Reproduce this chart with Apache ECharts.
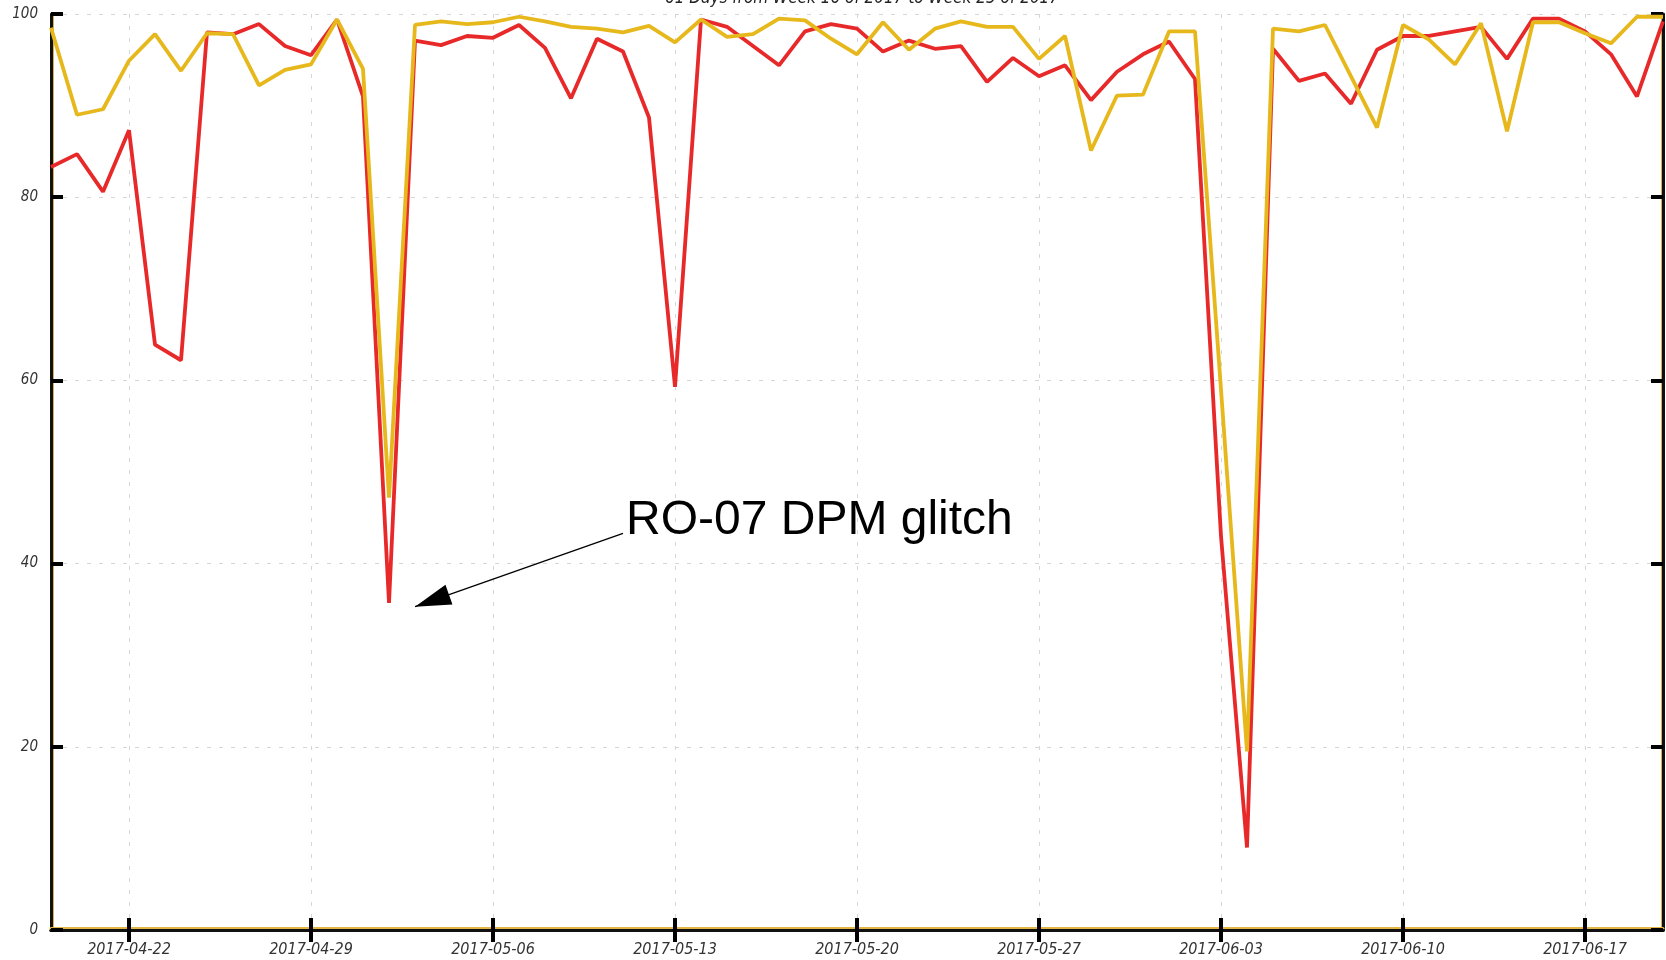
<!DOCTYPE html>
<html>
<head>
<meta charset="utf-8">
<script src="https://cdn.jsdelivr.net/npm/echarts@6/dist/echarts.min.js"></script>
<style>
html, body { margin: 0; padding: 0; background: #fff; }
#chart { width: 1666px; height: 960px; }
</style>
</head>
<body>
<div id="chart"></div>
<script>

// 63 days, 2017-04-19 .. 2017-06-20
var days = [];
(function () {
    var d = new Date(Date.UTC(2017, 3, 19));
    for (var i = 0; i < 63; i++) {
        days.push(d.toISOString().slice(0, 10));
        d.setUTCDate(d.getUTCDate() + 1);
    }
})();

var tickDays = ['2017-04-22', '2017-04-29', '2017-05-06', '2017-05-13', '2017-05-20',
                '2017-05-27', '2017-06-03', '2017-06-10', '2017-06-17'];

var availability = [83.3, 84.7, 80.6, 87.3, 63.9, 62.2, 98.0, 97.8, 98.9, 96.5,
                    95.5, 99.4, 91.0, 35.7, 97.1, 96.6, 97.6, 97.4, 98.8, 96.3,
                    90.8, 97.3, 95.9, 88.7, 59.3, 99.4, 98.6, 96.5, 94.4, 98.1,
                    98.9, 98.4, 95.9, 97.1, 96.2, 96.5, 92.6, 95.2, 93.2, 94.4,
                    90.6, 93.7, 95.6, 97.0, 92.9, 43.0, 9.0, 96.2, 92.7, 93.5,
                    90.2, 96.1, 97.6, 97.6, 98.1, 98.6, 95.1, 99.5, 99.5, 98.1,
                    95.6, 91.0, 99.2];

var reliability = [98.5, 89.0, 89.6, 94.9, 97.8, 93.8, 97.9, 97.8, 92.2, 93.9,
                   94.5, 99.4, 94.0, 47.2, 98.8, 99.2, 98.9, 99.1, 99.7, 99.2,
                   98.6, 98.4, 98.0, 98.7, 96.9, 99.4, 97.5, 97.8, 99.5, 99.3,
                   97.3, 95.6, 99.1, 96.1, 98.4, 99.2, 98.6, 98.6, 95.1, 97.6,
                   85.1, 91.1, 91.2, 98.1, 98.1, 59.0, 19.5, 98.4, 98.1, 98.8,
                   93.2, 87.6, 98.8, 97.2, 94.5, 99.0, 87.2, 99.1, 99.1, 97.9,
                   96.8, 99.7, 99.7];

var titleText = '61 Days from Week 16 of 2017 to Week 25 of 2017';
var noteText = 'RO-07 DPM glitch';
var noteFrom = ['2017-05-11', 43.3];
var noteTo = ['2017-05-03', 35.3];

var labelFont = 'DejaVu Sans Condensed, DejaVu Sans, sans-serif';

function onWeek(idx, value) {
    return tickDays.indexOf(value) >= 0;
}

var chart = echarts.init(document.getElementById('chart'));

var option = {
    backgroundColor: '#fff',
    animation: false,
    title: {
        text: titleText,
        left: 857,
        top: -15,
        textAlign: 'center',
        textStyle: {
            fontFamily: labelFont,
            fontStyle: 'italic',
            fontWeight: 'normal',
            fontSize: 17,
            color: '#222'
        }
    },
    grid: {
        left: 51,
        right: 3,
        top: 14,
        bottom: 30,
        containLabel: false,
        outerBoundsMode: 'none'
    },
    xAxis: [
        {
            type: 'category',
            data: days,
            boundaryGap: false,
            position: 'bottom',
            axisLine: {
                lineStyle: { color: '#111', width: 3, shadowColor: '#e2b545', shadowOffsetY: -2 }
            },
            axisTick: {
                inside: true, length: 12, interval: onWeek,
                lineStyle: { color: '#000', width: 4 }
            },
            axisLabel: {
                interval: onWeek,
                margin: 12,
                fontFamily: labelFont,
                fontStyle: 'italic',
                fontSize: 16,
                color: '#333'
            },
            splitLine: {
                show: true, interval: onWeek,
                lineStyle: { color: '#d6d6d6', type: [4, 8], width: 1 }
            }
        },
        {
            type: 'category',
            data: days,
            boundaryGap: false,
            position: 'top',
            axisLine: { lineStyle: { color: '#111', width: 3 } },
            axisTick: {
                inside: true, length: 12, interval: onWeek,
                lineStyle: { color: '#000', width: 4 }
            },
            axisLabel: { show: false },
            splitLine: { show: false }
        }
    ],
    yAxis: [
        {
            type: 'value',
            min: 0,
            max: 100,
            interval: 20,
            position: 'left',
            axisLine: {
                show: true,
                lineStyle: { color: '#111', width: 3, shadowColor: '#d9b04a', shadowOffsetX: 1 }
            },
            axisTick: {
                show: true, inside: true, length: 12,
                lineStyle: { color: '#000', width: 4 }
            },
            axisLabel: {
                margin: 13,
                fontFamily: labelFont,
                fontStyle: 'italic',
                fontSize: 15,
                color: '#333'
            },
            splitLine: {
                show: true,
                lineStyle: { color: '#d6d6d6', type: [4, 8], width: 1 }
            }
        },
        {
            type: 'value',
            min: 0,
            max: 100,
            interval: 20,
            position: 'right',
            axisLine: {
                show: true,
                lineStyle: { color: '#111', width: 3, shadowColor: '#d9b04a', shadowOffsetX: -1 }
            },
            axisTick: {
                show: true, inside: true, length: 12,
                lineStyle: { color: '#000', width: 4 }
            },
            axisLabel: { show: false },
            splitLine: { show: false }
        }
    ],
    series: [
        {
            name: 'Availability',
            type: 'line',
            data: availability,
            showSymbol: false,
            symbol: 'none',
            lineStyle: { color: '#e8292a', width: 3.8 },
            itemStyle: { color: '#e8292a' },
            z: 3,
            markLine: {
                silent: true,
                animation: false,
                label: { show: false },
                lineStyle: { color: '#000', width: 1.3, type: 'solid' },
                data: [
                    [
                        { coord: noteFrom, symbol: 'none' },
                        { coord: noteTo, symbol: 'triangle', symbolSize: [21, 36], symbolOffset: [0, 18] }
                    ]
                ]
            },
            markPoint: {
                silent: true,
                animation: false,
                symbol: 'circle',
                symbolSize: 0,
                data: [
                    {
                        coord: noteFrom,
                        label: {
                            show: true,
                            formatter: noteText,
                            position: 'right',
                            distance: 3,
                            offset: [0, -13],
                            fontFamily: 'Liberation Sans, Arial, sans-serif',
                            fontSize: 48,
                            color: '#000'
                        }
                    }
                ]
            }
        },
        {
            name: 'Reliability',
            type: 'line',
            data: reliability,
            showSymbol: false,
            symbol: 'none',
            lineStyle: { color: '#e6b81c', width: 3.8 },
            itemStyle: { color: '#e6b81c' },
            z: 4
        }
    ]
};

chart.setOption(option);

</script>
</body>
</html>
